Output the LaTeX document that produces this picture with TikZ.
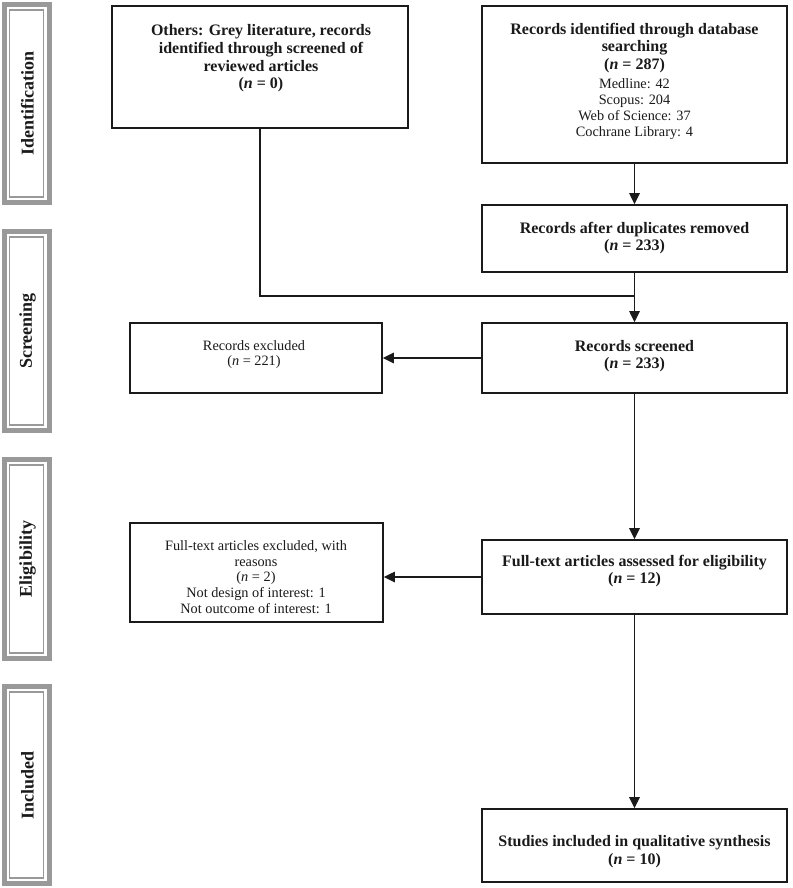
\documentclass[tikz,border=0pt]{standalone}
\usepackage{fontspec}
\setmainfont{Liberation Serif}
\usetikzlibrary{arrows.meta}
\definecolor{sgray}{HTML}{999999}
\definecolor{ink}{HTML}{1A1A1A}
\newcommand\mysidebox[4]{%
  \draw[sgray,line width=5pt] (4.2,#2+2.5) rectangle (49.7,#3-2.5);
  \draw[sgray,line width=1.4pt] (9.3,#2+8) rectangle (43.5,#3-8);
  \node[stxt] (#1) at (27.5,{(#2+#3)/2}) {#4};
}
\begin{document}
\begin{tikzpicture}[x=1pt,y=-1pt,
  box/.style={draw=ink,line width=1.8pt,minimum width=305pt,inner sep=0pt,fill=white},
  btxt/.style={font=\fontsize{16}{17.6}\selectfont\bfseries,align=center,inner sep=0pt,text=ink},
  rtxt/.style={font=\fontsize{14.3}{15.8}\selectfont,align=center,inner sep=0pt,text=ink},
  stxt/.style={font=\fontsize{18}{20}\selectfont\bfseries,rotate=90,inner sep=0pt,text=ink},
  conn/.style={draw=ink,line width=1.5pt},
  arr/.style={conn,-{Triangle[length=11pt,width=10.5pt]}}
]
\useasboundingbox (0,0) rectangle (792,888);

\mysidebox{sid}{2}{205}{Identification}
\mysidebox{sscr}{229}{433}{Screening}
\mysidebox{seli}{457}{661}{Eligibility}
\mysidebox{sinc}{684}{886}{Included}

\node[box,minimum width=296pt,minimum height=122pt] (oth) at (260,67) {};
\node[btxt] (othT) at (261,58.5) {Others: Grey literature, records\\identified through screened of\\reviewed articles\\(\textit{n} = 0)};

\node[box,minimum height=157pt] (ident) at (634.5,84.5) {};
\node[btxt] (identT) at (634.5,47.7) {Records identified through database\\searching\\(\textit{n} = 287)};
\node[rtxt] (identR) at (634.5,109) {Medline: 42\\Scopus: 204\\Web of Science: 37\\Cochrane Library: 4};

\node[box,minimum height=67pt] (dup) at (634.5,238.5) {};
\node[btxt] (dupT) at (634.5,238) {Records after duplicates removed\\(\textit{n} = 233)};

\node[box,minimum height=70pt] (scr) at (634.5,358) {};
\node[btxt] (scrT) at (634.5,356) {Records screened\\(\textit{n} = 233)};

\node[box,minimum width=252pt,minimum height=70pt] (exc1) at (256,358) {};
\node[rtxt] (exc1T) at (254,354.5) {Records excluded\\(\textit{n} = 221)};

\node[box,minimum height=74pt] (asse) at (634.5,577) {};
\node[btxt] (asseT) at (634.5,571) {Full-text articles assessed for eligibility\\(\textit{n} = 12)};

\node[box,minimum width=253pt,minimum height=99pt] (exc2) at (256.5,572.5) {};
\node[rtxt] (exc2T) at (256,577) {Full-text articles excluded, with\\reasons\\(\textit{n} = 2)\\Not design of interest: 1\\Not outcome of interest: 1};

\node[box,minimum height=73pt] (stud) at (634.5,845.5) {};
\node[btxt] (studT) at (634.5,851.5) {Studies included in qualitative synthesis\\(\textit{n} = 10)};

\coordinate (j) at (634.5,296);
\draw[arr] (ident.south) -- (dup.north);
\draw[conn] (oth.south) |- (j);
\draw[arr] (dup.south) -- (scr.north);
\draw[arr] (scr.west) -- (exc1.east);
\draw[arr] (scr.south) -- (asse.north);
\draw[arr] (asse.west) -- (asse.west -| exc2.east);
\draw[arr] (asse.south) -- (stud.north);
\end{tikzpicture}
\end{document}
